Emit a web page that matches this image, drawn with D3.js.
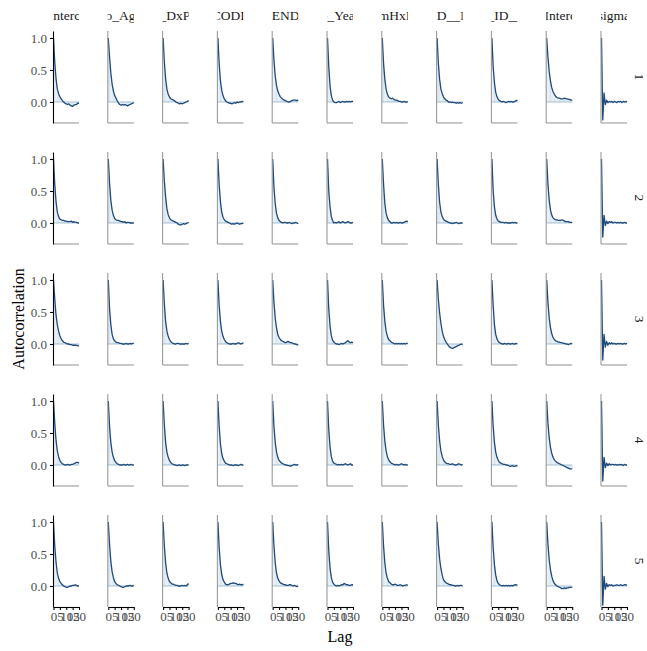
<!DOCTYPE html>
<html>
<head>
<meta charset="utf-8">
<script src="https://cdn.jsdelivr.net/npm/d3@7"></script>
<style>
  body { margin: 0; background: #fff; }
  text { font-family: "Liberation Serif", "DejaVu Serif", serif; }
</style>
</head>
<body>
<div id="chart"></div>
<script>
// autocorrelation of posterior draws, one panel per parameter x chain

const params = ["b_Intercept", "b_lo_Age_s", "b_DxPT", "b_CODI_sc", "b_END_c", "b_Year",
  "b_FamHxF_yes", "sd_ID__Inter", "sd_ID__In", "sd_Intercept", "sigma"];
const chains = ["1", "2", "3", "4", "5"];
const lags = d3.range(0, 21);
const xTicks = [0, 5, 10, 15, 20];
const yTicks = [0, 0.5, 1];

// acf values, lags 0..20, one array per parameter
const chain1 = [
  [1, .62, .36, .2, .13, .08, .05, .02, 0, -.02, -.03, -.04, -.03, -.05, -.06, -.07, -.05, -.04, -.04, -.02, -.02],
  [1, .7, .45, .28, .17, .1, .06, .02, -.02, -.04, -.05, -.04, -.05, -.04, -.05, -.06, -.05, -.04, -.03, -.02, -.01],
  [1, .62, .36, .2, .12, .08, .05, .04, .03, .02, 0, -.01, -.02, -.03, -.02, -.03, -.02, -.01, 0, .01, .02],
  [1, .6, .33, .18, .1, .05, .02, 0, -.01, -.02, -.02, -.03, -.02, -.01, -.02, 0, -.01, 0, 0, .01, 0],
  [1, .65, .4, .26, .17, .12, .08, .06, .04, .03, .02, .01, 0, 0, .01, .02, .03, .03, .03, .02, .03],
  [1, .55, .25, .1, .03, 0, -.01, -.01, 0, .01, -.01, 0, .01, 0, 0, .01, 0, .01, 0, .01, .01],
  [1, .6, .35, .2, .12, .08, .06, .05, .06, .04, .03, .03, .02, .01, .01, 0, 0, .01, 0, 0, 0],
  [1, .6, .35, .2, .13, .08, .05, .03, .02, 0, 0, -.01, 0, -.01, -.01, -.02, -.01, -.02, -.01, -.02, -.01],
  [1, .55, .3, .15, .08, .04, .02, .01, 0, .01, 0, -.01, 0, .01, 0, .01, 0, 0, .01, .02, .03],
  [1, .7, .47, .32, .22, .16, .12, .09, .07, .06, .06, .05, .05, .05, .06, .05, .05, .04, .04, .03, .03],
  [1, -.28, .14, -.04, .03, -.01, .01, 0, .01, -.01, .01, 0, -.01, .01, 0, .01, -.01, .01, 0, .01, 0]
];
const chain2 = [
  [1, .6, .33, .17, .1, .06, .05, .04, .04, .03, .03, .02, .02, .02, .03, .01, .02, .01, .01, 0, 0],
  [1, .62, .35, .2, .12, .07, .05, .04, .04, .03, .02, .02, .01, .02, 0, .01, .01, 0, 0, 0, 0],
  [1, .65, .4, .22, .13, .08, .05, .04, .03, .02, .01, 0, -.02, -.03, -.03, -.02, -.01, -.02, -.01, 0, .01],
  [1, .6, .33, .17, .09, .05, .03, .02, .01, 0, -.01, -.02, -.01, -.02, -.01, 0, -.01, -.02, -.01, -.01, 0],
  [1, .55, .3, .15, .08, .04, .02, .01, 0, .01, .01, 0, 0, .01, 0, -.01, 0, 0, .01, 0, -.01],
  [1, .5, .25, .1, .04, 0, .01, 0, .01, .02, 0, .01, .02, .01, 0, .01, .02, .01, 0, 0, .01],
  [1, .6, .3, .15, .08, .04, .02, 0, 0, .01, 0, .01, 0, 0, .01, 0, 0, .01, .02, .03, .02],
  [1, .6, .32, .17, .1, .06, .04, .03, .02, .01, 0, 0, -.01, 0, 0, .01, 0, -.01, 0, 0, 0],
  [1, .5, .25, .12, .06, .03, .02, .01, .01, .01, 0, .01, 0, 0, 0, 0, .01, 0, .01, 0, 0],
  [1, .6, .35, .2, .12, .08, .06, .05, .05, .04, .04, .04, .05, .04, .03, .02, .02, .02, .01, .01, .01],
  [1, -.22, .12, -.04, .03, -.01, .02, .01, .02, 0, .01, .01, 0, .01, 0, .01, 0, 0, .01, 0, 0]
];
const chain3 = [
  [1, .7, .45, .3, .2, .13, .08, .05, .03, .02, .01, 0, 0, -.01, -.01, -.02, -.02, -.02, -.02, -.03, -.03],
  [1, .55, .3, .15, .08, .05, .03, .02, .02, .01, .01, 0, 0, 0, .01, 0, 0, .01, 0, .01, .01],
  [1, .62, .35, .2, .12, .07, .04, .02, .01, 0, 0, .01, .01, 0, 0, 0, 0, 0, .01, 0, .01],
  [1, .6, .35, .2, .12, .07, .04, .02, .01, 0, 0, 0, .01, 0, 0, .01, .02, .01, 0, .01, .02],
  [1, .65, .4, .25, .15, .1, .07, .05, .04, .03, .02, .03, .04, .03, .02, .02, .01, 0, 0, -.01, -.02],
  [1, .55, .28, .13, .06, .03, .01, 0, 0, -.01, 0, .01, 0, .01, .02, .04, .05, .03, .02, .03, .02],
  [1, .6, .35, .2, .12, .07, .05, .03, .02, .01, 0, .01, 0, .01, 0, .01, 0, .01, 0, .01, .01],
  [1, .7, .48, .32, .2, .12, .07, .03, 0, -.03, -.05, -.06, -.07, -.06, -.05, -.04, -.03, -.02, -.01, 0, -.01],
  [1, .6, .3, .15, .08, .04, .02, .01, 0, 0, .01, 0, 0, .01, 0, 0, .01, 0, 0, .01, 0],
  [1, .65, .4, .25, .16, .1, .07, .05, .04, .03, .03, .02, .02, .01, .01, 0, 0, -.01, 0, .01, 0],
  [1, -.25, .15, -.05, .04, -.02, .02, 0, .02, 0, .01, 0, 0, .01, 0, .01, 0, 0, .01, 0, .01]
];
const chain4 = [
  [1, .65, .38, .22, .13, .07, .04, .02, .01, 0, 0, .01, 0, 0, .01, .01, .02, .03, .04, .04, .03],
  [1, .6, .35, .2, .12, .07, .04, .02, .01, 0, 0, 0, .01, 0, 0, .01, 0, 0, .01, 0, 0],
  [1, .62, .35, .2, .12, .07, .04, .02, .01, 0, 0, -.01, 0, 0, -.01, 0, 0, -.01, 0, 0, 0],
  [1, .6, .33, .18, .1, .06, .03, .02, .01, 0, 0, 0, -.01, 0, 0, 0, -.01, 0, .01, 0, 0],
  [1, .6, .35, .2, .12, .07, .05, .03, .02, .01, 0, 0, -.01, -.01, -.02, -.01, 0, .01, 0, 0, .01],
  [1, .55, .28, .13, .06, .03, .02, .01, 0, .01, 0, .01, 0, .01, .02, .01, 0, .01, .02, 0, 0],
  [1, .62, .37, .22, .13, .08, .05, .03, .02, .01, 0, .01, 0, 0, .01, .02, .01, 0, .01, 0, 0],
  [1, .62, .37, .22, .13, .08, .05, .03, .02, .02, .01, .01, .02, .01, 0, 0, .01, .02, .01, 0, .01],
  [1, .6, .35, .2, .12, .07, .04, .03, .02, .01, .01, 0, 0, -.01, -.02, -.02, -.01, -.02, -.02, -.01, -.02],
  [1, .65, .42, .27, .18, .12, .08, .06, .04, .03, .02, .01, 0, -.01, -.02, -.03, -.04, -.05, -.06, -.06, -.06],
  [1, -.25, .12, -.04, .03, -.01, .02, 0, .01, .01, 0, .01, 0, 0, .01, 0, .01, -.01, .01, 0, 0]
];
const chain5 = [
  [1, .62, .37, .2, .12, .07, .04, .02, 0, -.01, -.02, -.02, -.01, 0, 0, .01, .01, .02, .01, 0, 0],
  [1, .65, .38, .22, .13, .07, .04, .02, .01, 0, -.01, -.02, -.02, -.01, 0, 0, 0, .01, 0, 0, .01],
  [1, .62, .36, .2, .12, .07, .05, .03, .03, .02, .01, .01, 0, 0, 0, .01, 0, .01, 0, .02, .04],
  [1, .6, .33, .18, .1, .06, .03, .02, .02, .03, .04, .04, .05, .04, .04, .03, .02, .03, .02, .02, .03],
  [1, .62, .36, .2, .12, .08, .05, .04, .03, .02, .02, .01, .01, .02, .02, .01, 0, .01, 0, -.01, 0],
  [1, .55, .28, .13, .06, .03, .01, 0, .01, 0, .01, .02, .02, .04, .03, .02, .02, .01, .01, .02, .02],
  [1, .62, .36, .2, .12, .07, .05, .03, .02, .02, .03, .02, .01, .01, .02, .01, 0, .01, .01, .02, .01],
  [1, .65, .42, .27, .17, .1, .07, .05, .04, .03, .02, .02, .01, .01, 0, 0, .01, 0, .01, .01, 0],
  [1, .6, .33, .17, .08, .04, .02, .01, 0, .01, 0, .01, 0, .01, 0, .01, 0, .01, .02, .02, .01],
  [1, .65, .4, .25, .15, .08, .04, .02, 0, -.01, -.02, -.03, -.04, -.04, -.03, -.04, -.03, -.03, -.02, -.02, -.02],
  [1, -.3, .15, -.05, .04, -.01, .02, .01, .02, 0, .01, .01, .02, .01, .01, .02, .01, .01, .02, .02, .01]
];
const acf = [chain1, chain2, chain3, chain4, chain5];

const width = 647;
const height = 651;

const svg = d3.select("#chart").append("svg")
    .attr("width", width)
    .attr("height", height)
    .attr("viewBox", [0, 0, width, height]);

// facet layout
const col = d3.scaleBand()
    .domain(params)
    .range([53, 627])
    .paddingInner(0.5255);

const row = d3.scaleBand()
    .domain(chains)
    .range([31, 607])
    .paddingInner(0.24);

const pw = col.bandwidth();
const ph = row.bandwidth();

const x = d3.scaleLinear().domain([0, 20]).range([0.5, pw]);
const y = d3.scaleLinear().domain([-0.328, 1.109]).range([ph, 0]);

const line = d3.line()
    .x((d, i) => x(lags[i]))
    .y(d => y(d));

const barW = x(0.7) - x(0);

chains.forEach((ch, r) => {
  params.forEach((p, c) => {
    const vals = acf[r][c];
    const g = svg.append("g")
        .attr("transform", `translate(${col(p)},${row(ch)})`);

    g.append("g")
      .selectAll("rect")
      .data(vals)
      .join("rect")
        .attr("x", (d, i) => x(lags[i]) - barW / 2)
        .attr("width", barW)
        .attr("y", d => Math.min(y(d), y(0)))
        .attr("height", d => Math.abs(y(d) - y(0)))
        .attr("fill", "#d6e4ee");

    g.append("line")
        .attr("x1", 0).attr("x2", pw)
        .attr("y1", y(0)).attr("y2", y(0))
        .attr("stroke", "#8fb1cc")
        .attr("stroke-width", 0.8);

    g.append("path")
        .datum(vals)
        .attr("d", line)
        .attr("fill", "none")
        .attr("stroke", "#1f4a7a")
        .attr("stroke-width", 1.3)
        .attr("stroke-linejoin", "round");

    // panel edge lines (grey unless a real axis sits there)
    if (c > 0) {
      g.append("line")
          .attr("x1", 0).attr("x2", 0).attr("y1", 0).attr("y2", ph)
          .attr("stroke", "#9a9a9a").attr("stroke-width", 1.1);
    }
    if (r < chains.length - 1) {
      g.append("line")
          .attr("x1", 0).attr("x2", pw).attr("y1", ph).attr("y2", ph)
          .attr("stroke", "#9a9a9a").attr("stroke-width", 1.1);
    }

    if (c === 0) {
      g.append("g")
          .call(d3.axisLeft(y).tickValues(yTicks).tickFormat(d3.format(".1f"))
            .tickSize(3).tickSizeOuter(0).tickPadding(3))
          .call(a => a.selectAll("text")
            .attr("font-family", "Liberation Serif")
            .attr("font-size", 13)
            .attr("fill", "#4d4d4d"))
          .call(a => a.selectAll("line, path").attr("stroke", "#000").attr("stroke-width", 1.1));
    }
    if (r === chains.length - 1) {
      g.append("g")
          .attr("transform", `translate(0,${ph})`)
          .call(d3.axisBottom(x).tickValues(xTicks).tickFormat(d3.format("d"))
            .tickSize(3).tickSizeOuter(0).tickPadding(2))
          .call(a => a.selectAll("text")
            .attr("font-family", "Liberation Serif")
            .attr("font-size", 13)
            .attr("fill", "#4d4d4d"))
          .call(a => a.selectAll("line, path").attr("stroke", "#000").attr("stroke-width", 1.1));
    }
  });
});

// top strips, clipped to the panel width
const defs = svg.append("defs");
params.forEach((p, c) => {
  defs.append("clipPath")
      .attr("id", "strip" + c)
    .append("rect")
      .attr("x", col(p)).attr("y", 0)
      .attr("width", pw).attr("height", 30);
  svg.append("text")
      .attr("clip-path", `url(#strip${c})`)
      .attr("x", col(p) + pw / 2)
      .attr("y", 15)
      .attr("dy", "0.35em")
      .attr("text-anchor", "middle")
      .attr("font-size", 13.5)
      .attr("fill", "#1a1a1a")
      .text(p);
});

// right strips
chains.forEach(ch => {
  svg.append("text")
      .attr("transform", `translate(640,${row(ch) + ph / 2}) rotate(90)`)
      .attr("dy", "0.35em")
      .attr("text-anchor", "middle")
      .attr("font-size", 13.5)
      .attr("fill", "#1a1a1a")
      .text(ch);
});

// axis titles
svg.append("text")
    .attr("x", (53 + 627) / 2)
    .attr("y", 636)
    .attr("dy", "0.35em")
    .attr("text-anchor", "middle")
    .attr("font-size", 16)
    .text("Lag");

svg.append("text")
    .attr("transform", `translate(18,${(31 + 607) / 2}) rotate(-90)`)
    .attr("dy", "0.35em")
    .attr("text-anchor", "middle")
    .attr("font-size", 16)
    .text("Autocorrelation");
</script>
</body>
</html>
